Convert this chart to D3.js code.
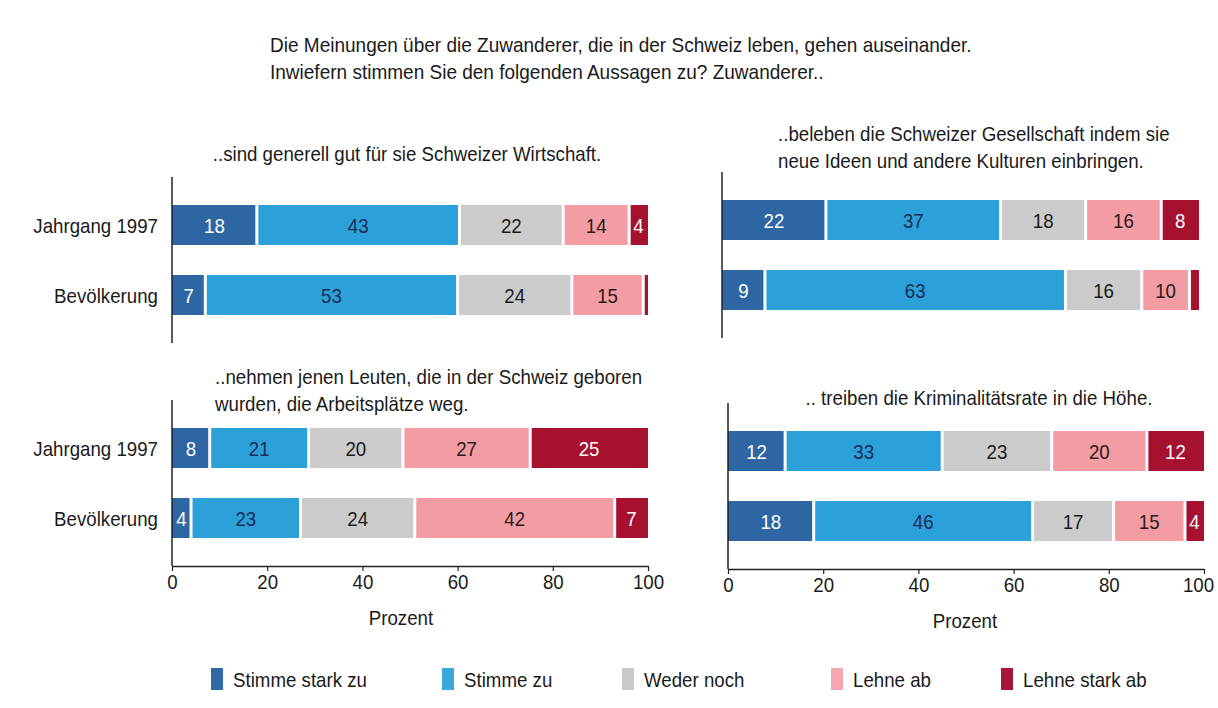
<!DOCTYPE html>
<html>
<head>
<meta charset="utf-8">
<script src="https://cdn.jsdelivr.net/npm/d3@7"></script>
<style>
    body { margin: 0; background: #fff; }
    svg text { font-family: "Liberation Sans", Arial, sans-serif; fill: #1a1a1a; }
</style>
</head>
<body>
<div id="chart"></div>
<script>
// answer categories (legend order) and the two groups
const categories = ["Stimme stark zu", "Stimme zu", "Weder noch", "Lehne ab", "Lehne stark ab"];
const groups = ["Jahrgang 1997", "Bevölkerung"];

// percentages per group, in category order
const wirtschaft = [[18, 43, 22, 14, 4], [7, 53, 24, 15, 1]];
const kulturen = [[22, 37, 18, 16, 8], [9, 63, 16, 10, 2]];
const arbeitsplaetze = [[8, 21, 20, 27, 25], [4, 23, 24, 42, 7]];
const kriminalitaet = [[12, 33, 23, 20, 12], [18, 46, 17, 15, 4]];

const xTicks = [0, 20, 40, 60, 80, 100];
const titleLines = [
    "Die Meinungen über die Zuwanderer, die in der Schweiz leben, gehen auseinander.",
    "Inwiefern stimmen Sie den folgenden Aussagen zu? Zuwanderer.."
];
const xLabel = "Prozent";

const colors = ["#2d66a2", "#2ca0d9", "#cbcbcb", "#f39ca4", "#a6112f"];
const legendColors = ["#3069a6", "#3aa7dd", "#c9c9c9", "#f4a6b3", "#a8153a"];
const labelColors = ["#ffffff", "#1b2d55", "#1a1a1a", "#2a1a1a", "#ffffff"];

const width = 1218, height = 708;
const fontSize = 21;
const squeeze = 0.89; // the original type is set narrow

const svg = d3.select("#chart").append("svg")
    .attr("width", width)
    .attr("height", height);

// main title
svg.append("g").selectAll("text")
    .data(titleLines)
    .join("text")
    .attr("class", "title")
    .attr("x", 270)
    .attr("y", (d, i) => 52 + i * 27)
    .attr("font-size", fontSize)
    .text(d => d);

// panel layout
const panels = [
    {data: wirtschaft, title: ["..sind generell gut für sie Schweizer Wirtschaft."], tx: 407, anchor: "middle", ty: 161,
     x0: 172, x1: 648, y0: 177, y1: 343, axis: false, labels: true},
    {data: kulturen, title: ["..beleben die Schweizer Gesellschaft indem sie", "neue Ideen und andere Kulturen einbringen."], tx: 778, anchor: "start", ty: 141,
     x0: 722, x1: 1199, y0: 172, y1: 338, axis: false, labels: false},
    {data: arbeitsplaetze, title: ["..nehmen jenen Leuten, die in der Schweiz geboren", "wurden, die Arbeitsplätze weg."], tx: 215, anchor: "start", ty: 384,
     x0: 172, x1: 648, y0: 400, y1: 566, axis: true, labels: true, lx: 401},
    {data: kriminalitaet, title: [".. treiben die Kriminalitätsrate in die Höhe."], tx: 979, anchor: "middle", ty: 405,
     x0: 728, x1: 1204, y0: 403, y1: 569, axis: true, labels: false, lx: 965}
];

panels.forEach(p => {
    const g = svg.append("g");

    const x = d3.scaleLinear().domain([0, 100]).range([p.x0, p.x1]);
    const y = d3.scaleBand().domain(groups).range([p.y0, p.y1])
        .paddingInner(3 / 7).paddingOuter(0.4);

    // panel title
    g.append("g").selectAll("text")
        .data(p.title)
        .join("text")
        .attr("x", p.tx)
        .attr("y", (d, i) => p.ty + i * 27)
        .attr("text-anchor", p.anchor)
        .attr("font-size", fontSize)
        .text(d => d);

    // stack each row, scaled so the row fills 0-100 (values are rounded)
    const rows = p.data.map((vals, r) => {
        const total = d3.sum(vals);
        let acc = 0;
        return vals.map((v, i) => {
            const s = acc / total * 100;
            acc += v;
            return {group: groups[r], cat: i, value: v, start: s, end: acc / total * 100, last: vals.length - 1};
        });
    });
    const segs = rows.flat();

    const gap = 1.5;
    g.append("g").selectAll("rect")
        .data(segs)
        .join("rect")
        .attr("x", d => x(d.start) + (d.cat > 0 ? gap : 0))
        .attr("y", d => y(d.group))
        .attr("width", d => Math.max(1, x(d.end) - x(d.start) - (d.cat > 0 ? gap : 0) - (d.cat < d.last ? gap : 0)))
        .attr("height", y.bandwidth())
        .attr("fill", d => colors[d.cat]);

    g.append("g").selectAll("text")
        .data(segs.filter(d => d.value >= 3))
        .join("text")
        .attr("x", d => (x(d.start) + x(d.end)) / 2)
        .attr("y", d => y(d.group) + y.bandwidth() / 2)
        .attr("dy", "0.36em")
        .attr("text-anchor", "middle")
        .attr("font-size", fontSize)
        .style("fill", d => labelColors[d.cat])
        .text(d => d.value);

    // category labels on the left panels
    if (p.labels) {
        g.append("g").selectAll("text")
            .data(groups)
            .join("text")
            .attr("x", 158)
            .attr("y", d => y(d) + y.bandwidth() / 2)
            .attr("dy", "0.36em")
            .attr("text-anchor", "end")
            .attr("font-size", fontSize)
            .text(d => d);
    }

    // vertical axis line
    g.append("line")
        .attr("x1", p.x0).attr("x2", p.x0)
        .attr("y1", p.y0).attr("y2", p.y1)
        .attr("stroke", "#222")
        .attr("stroke-width", 1.5);

    if (p.axis) {
        const ax = g.append("g")
            .attr("transform", `translate(0,${p.y1})`)
            .call(d3.axisBottom(x).tickValues(xTicks).tickSize(5).tickSizeOuter(0).tickPadding(3));
        ax.select(".domain").attr("stroke", "#222").attr("stroke-width", 1.5);
        ax.selectAll(".tick line").attr("stroke", "#222").attr("stroke-width", 1.2);
        ax.selectAll(".tick text")
            .attr("font-size", fontSize)
            .attr("font-family", "Liberation Sans, Arial, sans-serif")
            .style("fill", "#1a1a1a");
        // keep the last label inside the page
        if (p.x1 > 1200) {
            ax.selectAll(".tick text").filter(d => d === 100).attr("dx", -6);
        }

        g.append("text")
            .attr("x", p.lx)
            .attr("y", p.y1 + 59)
            .attr("text-anchor", "middle")
            .attr("font-size", fontSize)
            .text(xLabel);
    }
});

// legend
const legendX = [211, 442, 622, 831, 1001];
const legend = svg.append("g").selectAll("g")
    .data(categories)
    .join("g")
    .attr("transform", (d, i) => `translate(${legendX[i]},668)`);

legend.append("rect")
    .attr("width", 12)
    .attr("height", 22)
    .attr("fill", (d, i) => legendColors[i]);

legend.append("text")
    .attr("x", 22)
    .attr("y", 11)
    .attr("dy", "0.36em")
    .attr("font-size", fontSize)
    .text(d => d);

// narrow every text horizontally, like the condensed type of the original
svg.selectAll("text").each(function () {
    const k = this.classList.contains("title") ? 0.905 : squeeze;
    const len = this.getComputedTextLength();
    d3.select(this)
        .attr("textLength", len * k)
        .attr("lengthAdjust", "spacingAndGlyphs");
});
</script>
</body>
</html>
